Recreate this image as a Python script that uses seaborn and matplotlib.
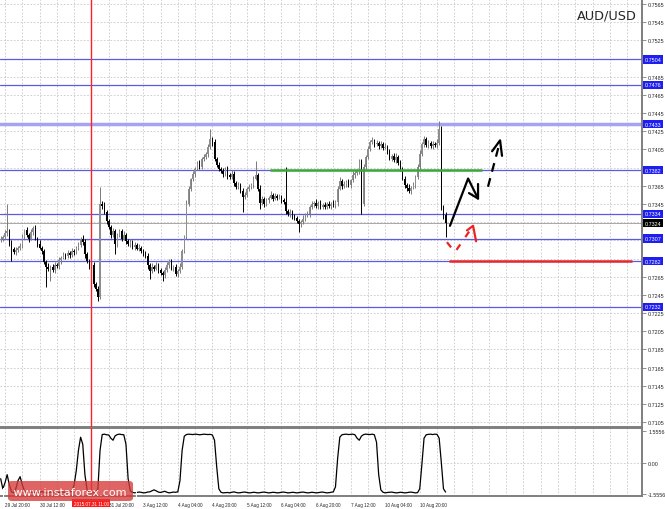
import numpy as np
import pandas as pd
import matplotlib
matplotlib.use("Agg")
import matplotlib.pyplot as plt
from matplotlib import font_manager
from matplotlib.patches import FancyBboxPatch
import seaborn as sns


# AUD/USD H1, bar 0 = 29 Jul 20:00 (two earlier bars on the left edge)
first_bar = -2
first_open = 0.7305
closes = [
    0.7307, 0.7309, 0.7313, 0.7315, 0.7302, 0.7296, 0.7292, 0.7294, 0.7297, 0.7299,
    0.7309, 0.7316, 0.7311, 0.7307, 0.7314, 0.7319, 0.7307, 0.7301, 0.7297, 0.7293,
    0.7281, 0.7276, 0.7274, 0.7276, 0.7272, 0.7278, 0.7277, 0.7283, 0.7286, 0.7289,
    0.7288, 0.7291, 0.7289, 0.7293, 0.7292, 0.7297, 0.7300, 0.7307, 0.7303, 0.7290,
    0.7282, 0.7276, 0.7278, 0.7257, 0.7252, 0.7243, 0.7345, 0.7343, 0.7336, 0.7326,
    0.7320, 0.7311, 0.7315, 0.7301, 0.7311, 0.7315, 0.7307, 0.7311, 0.7304, 0.7301,
    0.7303, 0.7298, 0.7300, 0.7296, 0.7297, 0.7293, 0.7291, 0.7288, 0.7278, 0.7271,
    0.7276, 0.7274, 0.7278, 0.7272, 0.7269, 0.7267, 0.7272, 0.7278, 0.7282, 0.7274,
    0.7276, 0.7268, 0.7271, 0.7276, 0.7293, 0.7309, 0.7345, 0.7362, 0.7372, 0.7378,
    0.7384, 0.7389, 0.7386, 0.7395, 0.7397, 0.7400, 0.7408, 0.7417, 0.7413, 0.7395,
    0.7388, 0.7384, 0.7381, 0.7378, 0.7384, 0.7377, 0.7375, 0.7378, 0.7368, 0.7364,
    0.7366, 0.7359, 0.7353, 0.7355, 0.7362, 0.7364, 0.7366, 0.7373, 0.7377, 0.7362,
    0.7346, 0.7351, 0.7345, 0.7349, 0.7352, 0.7355, 0.7351, 0.7354, 0.7352, 0.7353,
    0.7349, 0.7347, 0.7337, 0.7334, 0.7336, 0.7331, 0.7330, 0.7326, 0.7323, 0.7325,
    0.7329, 0.7333, 0.7334, 0.7342, 0.7345, 0.7346, 0.7343, 0.7346, 0.7342, 0.7344,
    0.7342, 0.7345, 0.7343, 0.7345, 0.7344, 0.7347, 0.7362, 0.7370, 0.7365, 0.7367,
    0.7369, 0.7366, 0.7371, 0.7377, 0.7379, 0.7381, 0.7392, 0.7345, 0.7386, 0.7397,
    0.7406, 0.7413, 0.7415, 0.7411, 0.7412, 0.7409, 0.7411, 0.7407, 0.7408, 0.7403,
    0.7395, 0.7398, 0.7393, 0.7397, 0.7390, 0.7384, 0.7373, 0.7366, 0.7363, 0.7359,
    0.7363, 0.7366, 0.7375, 0.7386, 0.7400, 0.7411, 0.7417, 0.7410, 0.7412, 0.7409,
    0.7411, 0.7410, 0.7412, 0.7428, 0.7342, 0.7333, 0.7324,
]
# wick lengths in pips above / below the body
wick_up = [
    3, 2, 3, 30, 2, 3, 2, 4, 2, 3,
    3, 2, 4, 2, 3, 2, 3, 2, 4, 2,
    3, 2, 4, 2, 3, 3, 2, 4, 2, 3,
    2, 3, 2, 4, 3, 2, 3, 2, 4, 3,
    2, 3, 2, 3, 2, 3, 19, 3, 4, 2,
    3, 2, 4, 3, 2, 3, 2, 4, 2, 3,
    3, 2, 3, 2, 4, 2, 3, 2, 3, 2,
    4, 2, 3, 2, 3, 2, 4, 3, 2, 3,
    2, 3, 2, 4, 3, 2, 4, 3, 2, 3,
    2, 3, 4, 2, 3, 2, 3, 11, 2, 3,
    2, 3, 2, 4, 2, 3, 2, 4, 3, 2,
    3, 2, 4, 3, 2, 3, 2, 3, 15, 2,
    4, 3, 2, 3, 2, 4, 2, 3, 2, 3,
    2, 3, 39, 2, 3, 2, 3, 2, 3, 2,
    4, 2, 3, 2, 3, 2, 4, 2, 3, 2,
    3, 2, 3, 2, 4, 2, 3, 5, 2, 3,
    2, 3, 2, 4, 2, 3, 3, 2, 3, 2,
    3, 2, 4, 2, 3, 2, 3, 2, 4, 2,
    3, 2, 3, 4, 2, 3, 2, 3, 2, 4,
    2, 3, 2, 3, 4, 2, 3, 2, 3, 2,
    3, 2, 4, 8, 3, 2, 3,
]
wick_down = [
    2, 3, 2, 3, 3, 14, 2, 3, 2, 3,
    2, 3, 2, 4, 2, 3, 2, 3, 2, 3,
    2, 22, 3, 14, 2, 3, 2, 3, 4, 2,
    3, 2, 3, 2, 3, 2, 3, 2, 3, 4,
    2, 3, 4, 3, 3, 5, 2, 3, 2, 3,
    2, 3, 2, 11, 3, 2, 3, 2, 3, 2,
    3, 2, 4, 2, 3, 2, 3, 2, 4, 8,
    2, 3, 2, 3, 2, 7, 3, 2, 3, 2,
    3, 2, 3, 2, 3, 2, 3, 2, 3, 2,
    3, 2, 3, 2, 3, 2, 3, 2, 4, 3,
    2, 3, 2, 3, 2, 4, 3, 2, 3, 2,
    3, 2, 17, 3, 2, 3, 2, 3, 2, 3,
    6, 2, 3, 2, 3, 2, 3, 2, 3, 2,
    3, 2, 3, 2, 3, 2, 3, 2, 9, 3,
    2, 3, 2, 3, 2, 3, 2, 3, 2, 3,
    2, 3, 2, 3, 2, 3, 4, 2, 3, 2,
    3, 2, 3, 2, 3, 2, 3, 11, 2, 3,
    2, 3, 2, 3, 2, 3, 2, 3, 2, 3,
    2, 3, 2, 3, 2, 3, 2, 3, 4, 2,
    3, 2, 3, 2, 3, 2, 3, 2, 3, 2,
    3, 2, 3, 2, 4, 5, 15,
]
# lower window oscillator
osc = [
    -0.8, -1.3, -1.0, -0.6, -1.1, -1.45, -1.5, -1.3, -0.9, -0.7,
    -1.1, -1.4, -1.48, -1.5, -1.47, -1.45, -1.48, -1.5, -1.46, -1.44,
    -1.47, -1.5, -1.49, -1.46, -1.45, -1.48, -1.5, -1.47, -1.45, -1.46,
    -1.48, -1.5, -1.45, -1.4, -1.1, -0.4, 0.6, 1.25, 0.9, -0.6,
    -1.35, -1.48, -1.5, -1.49, -1.47, -1.3, 0.6, 1.38, 1.40, 1.37,
    1.36, 1.2, 1.1, 1.32, 1.38, 1.40, 1.38, 1.37, 0.9, -0.8,
    -1.4, -1.47, -1.5, -1.48, -1.46, -1.47, -1.5, -1.49, -1.46, -1.45,
    -1.4, -1.35, -1.4, -1.46, -1.48, -1.45, -1.42, -1.47, -1.5, -1.48,
    -1.46, -1.47, -1.45, -0.9, 0.6, 1.3, 1.38, 1.40, 1.39, 1.38,
    1.40, 1.39, 1.37, 1.38, 1.40, 1.39, 1.38, 1.39, 1.36, 1.1,
    -0.2, -1.3, -1.47, -1.5, -1.49, -1.48, -1.5, -1.47, -1.45, -1.48,
    -1.5, -1.49, -1.47, -1.46, -1.48, -1.5, -1.49, -1.47, -1.48, -1.5,
    -1.49, -1.47, -1.46, -1.48, -1.5, -1.49, -1.47, -1.48, -1.5, -1.49,
    -1.47, -1.46, -1.48, -1.5, -1.49, -1.47, -1.48, -1.5, -1.49, -1.47,
    -1.46, -1.48, -1.5, -1.49, -1.47, -1.48, -1.5, -1.49, -1.47, -1.46,
    -1.48, -1.5, -1.49, -1.47, -1.45, -1.2, 0.2, 1.25, 1.37, 1.39,
    1.40, 1.38, 1.39, 1.40, 1.37, 1.2, 1.1, 1.3, 1.38, 1.40,
    1.39, 1.38, 1.40, 1.37, 1.0, -0.6, -1.35, -1.47, -1.5, -1.48,
    -1.47, -1.46, -1.48, -1.5, -1.49, -1.47, -1.48, -1.5, -1.49, -1.47,
    -1.46, -1.48, -1.5, -1.49, -1.3, -0.1, 1.2, 1.37, 1.39, 1.40,
    1.38, 1.40, 1.39, 1.2, 0.0, -1.3, -1.46,
]

levels = [0.7504, 0.7476, 0.7433, 0.7382, 0.7334, 0.7307, 0.7282, 0.7232]
last_price = 0.7324
green_level = 0.7382
green_span = (122.7, 220.8)
red_level = 0.7282
red_span = (205.6, 290.3)
mark_bar = 40
mark_label = "2015.07.31 11:00"

label_bars = [0, 16, 32, 48, 64, 80, 96, 112, 128, 144, 160, 176, 192]
time_labels = ["29 Jul 20:00", "30 Jul 12:00", "31 Jul 04:00", "31 Jul 20:00",
               "3 Aug 12:00", "4 Aug 04:00", "4 Aug 20:00", "5 Aug 12:00",
               "6 Aug 04:00", "6 Aug 20:00", "7 Aug 12:00", "10 Aug 04:00",
               "10 Aug 20:00"]

# hand drawn forecast marks (bar, price)
fc_black = [(206.0, 0.7321), (214.4, 0.7373), (219.0, 0.7351)]
fc_black_head = [(219.0, 0.7367), (219.0, 0.7351), (214.8, 0.7357)]
fc_black_dash = [(223.6, 0.7364), (229.2, 0.7414)]
fc_black_dash_head = [(225.5, 0.7403), (229.2, 0.7415), (230.1, 0.7398)]
fc_red_dash = [(204.6, 0.7303), (208.3, 0.7292), (216.7, 0.7321)]
fc_red_head = [(213.9, 0.7316), (216.7, 0.7321), (218.1, 0.7304)]


sns.set_style("white")
installed = {f.name for f in font_manager.fontManager.ttflist}
if "Liberation Sans Narrow" in installed:
    small_font, y_size, x_size = "Liberation Sans Narrow", 4.6, 3.9
else:
    small_font, y_size, x_size = "Liberation Sans", 3.9, 3.3
plt.rcParams["font.family"] = [small_font, "DejaVu Sans"]

bars = np.arange(first_bar, first_bar + len(closes))
df = pd.DataFrame({"bar": bars, "close": closes})
df["open"] = [first_open] + closes[:-1]
df["high"] = df[["open", "close"]].max(axis=1) + np.array(wick_up) * 0.0001
df["low"] = df[["open", "close"]].min(axis=1) - np.array(wick_down) * 0.0001
up = df["close"] >= df["open"]

fig = plt.figure(figsize=(6.65, 5.10), dpi=100)
W, H = 665, 510
ax = fig.add_axes([0, (H - 428) / H, 642 / W, 428 / H])
ax_ind = fig.add_axes([0, (H - 497) / H, 642 / W, 68 / H], sharex=ax)

grid_col = "#c8c8c8"
frame_col = "#7f7f7f"
xmin, xmax = -5 / 2.16, (642 - 5) / 2.16

# grid
for b in np.arange(0, 296, 8):
    for a in (ax, ax_ind):
        a.axvline(b, color=grid_col, lw=0.6, ls=(0, (2, 2)), zorder=0)
price_ticks = np.round(np.arange(0.7105, 0.7566, 0.002), 4)
for p in price_ticks:
    ax.axhline(p, color=grid_col, lw=0.6, ls=(0, (2, 2)), zorder=0)
ax_ind.axhline(0, color=grid_col, lw=0.6, ls=(0, (2, 2)), zorder=0)

# levels
for lv in levels:
    c, lw = ("#a4a4f2", 2.5) if lv == 0.7433 else ("#5a5ae6", 0.9)
    ax.axhline(lv, color=c, lw=lw, zorder=1)
ax.axhline(last_price, color="#9a9a9a", lw=0.6, zorder=1)
ax.hlines(green_level, *green_span, color="#3aa83a", lw=1.8, zorder=4)
ax.hlines(red_level, *red_span, color="#e8272b", lw=1.8, zorder=4)

# candles
bull_col, bear_col = "#8e8e8e", "#000000"
ax.vlines(df["bar"][up], df["low"][up], df["high"][up], color="#7a7a7a", lw=0.7, zorder=2)
ax.vlines(df["bar"][~up], df["low"][~up], df["high"][~up], color=bear_col, lw=0.7, zorder=2)
body = (df["close"] - df["open"]).abs().clip(lower=0.00004)
bottom = df[["open", "close"]].min(axis=1)
ax.bar(df["bar"][up], body[up], bottom=bottom[up], width=0.65, color=bull_col, lw=0, zorder=3)
ax.bar(df["bar"][~up], body[~up], bottom=bottom[~up], width=0.65, color=bear_col, lw=0, zorder=3)

# forecast marks
def draw(pts, **kw):
    xs, ys = zip(*pts)
    ax.plot(xs, ys, zorder=5, solid_capstyle="round", **kw)

draw(fc_black, color="black", lw=1.6)
draw(fc_black_head, color="black", lw=1.6)
draw(fc_black_dash, color="black", lw=1.6, ls=(0, (4, 3)))
draw(fc_black_dash_head, color="black", lw=1.6)
draw(fc_red_dash, color="#ee2222", lw=1.6, ls=(0, (3, 4)))
draw(fc_red_head, color="#ee2222", lw=1.6)

# red time marker
for a in (ax, ax_ind):
    a.axvline(mark_bar, color="#ff2020", lw=1.0, zorder=4)

# oscillator
sns.lineplot(x=bars, y=osc, ax=ax_ind, color="black", lw=0.9, zorder=3)

# axes styling
ax.set_xlim(xmin, xmax)
ax.set_ylim(0.75705 - 428 * 0.00011, 0.75705)
ax_ind.set_ylim(-1.654, 1.704)
for a in (ax, ax_ind):
    a.yaxis.tick_right()
    a.tick_params(axis="y", labelsize=y_size, length=3, width=0.6, color=frame_col, pad=1.5)
    for s in ("left", "top"):
        a.spines[s].set_visible(False)
    for s in ("right", "bottom"):
        a.spines[s].set_color(frame_col)
        a.spines[s].set_linewidth(1.4)
    a.set_xlabel("")
    a.set_ylabel("")
ax_ind.spines["top"].set_visible(True)
ax_ind.spines["top"].set_color(frame_col)
ax_ind.spines["top"].set_linewidth(1.4)

# price scale: labels sitting under a level box are covered in the terminal
boxed = levels + [last_price]
ax.set_yticks(price_ticks)
ax.set_yticklabels(["" if min(abs(p - b) for b in boxed) < 0.00035 else f"{p:.4f}"
                    for p in price_ticks])
ax.tick_params(axis="x", bottom=False, labelbottom=False)

ax_ind.set_yticks([-1.5556, 0, 1.5556])
ax_ind.set_yticklabels(["-1.5556", "0.00", "1.5556"])
ax_ind.set_xticks(label_bars)
ax_ind.set_xticklabels(["" if b == 32 else t for b, t in zip(label_bars, time_labels)], ha="left")
ax_ind.tick_params(axis="x", labelsize=x_size, length=3, width=0.6, color=frame_col, pad=1.5)

# price boxes on the scale
for lv in levels:
    ax.text(1.004, lv, f"{lv:.4f}", transform=ax.get_yaxis_transform(), fontsize=y_size,
            color="white", va="center", ha="left", zorder=6, clip_on=False,
            bbox=dict(boxstyle="square,pad=0.3", fc="#1e1ef0", ec="none"))
ax.text(1.004, last_price, f"{last_price:.4f}", transform=ax.get_yaxis_transform(),
        fontsize=y_size, color="white", va="center", ha="left", zorder=6, clip_on=False,
        bbox=dict(boxstyle="square,pad=0.3", fc="black", ec="none"))

ax_ind.text(mark_bar, -0.105, mark_label, transform=ax_ind.get_xaxis_transform(),
            fontsize=x_size, color="white", ha="center", va="center", zorder=6, clip_on=False,
            bbox=dict(boxstyle="square,pad=0.3", fc="#ff1a1a", ec="none"))

fig.text(577 / W, 1 - 16 / H, "AUD/USD", fontsize=9.3, va="center", ha="left",
         family="DejaVu Sans")

# watermark
fig.add_artist(FancyBboxPatch((8 / W, (H - 502) / H), 125 / W, 20 / H,
                              boxstyle="round,pad=0,rounding_size=0.006",
                              transform=fig.transFigure, fc="#d63a3a", ec="none",
                              alpha=0.78, zorder=8))
fig.text(70 / W, 1 - 492 / H, "[  www.instaforex.com  ]", fontsize=8, color="white",
         ha="center", va="center", zorder=9, family="DejaVu Sans")

fig.savefig("out.png", dpi=100)
